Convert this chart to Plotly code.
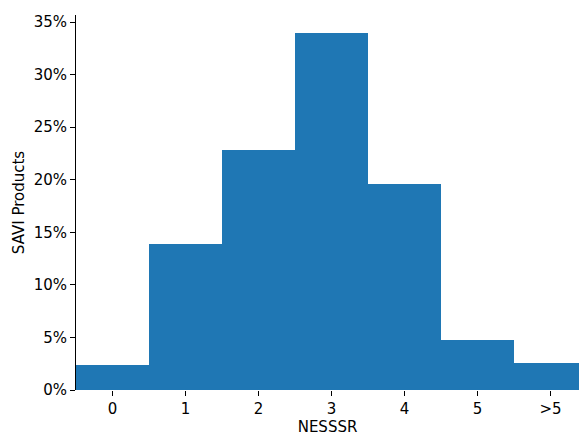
import plotly.graph_objects as go

categories = ["0", "1", "2", "3", "4", "5", ">5"]
shares_pct = [2.38, 13.9, 22.83, 33.95, 19.59, 4.76, 2.57]
y_ticks = [0, 5, 10, 15, 20, 25, 30, 35]
y_tick_labels = [f"{v}%" for v in y_ticks]

fig = go.Figure(
    go.Bar(
        x=list(range(len(categories))),
        y=shares_pct,
        width=1.0,
        marker=dict(color="#1f77b4", line=dict(width=0)),
    )
)

font = dict(family="DejaVu Sans", size=15, color="#000000")

fig.update_layout(
    width=579,
    height=436,
    margin=dict(l=76, r=0, t=15, b=46),
    paper_bgcolor="white",
    plot_bgcolor="white",
    showlegend=False,
    bargap=0,
    font=font,
    xaxis=dict(
        range=[-0.5, 6.39],
        tickmode="array",
        tickvals=list(range(len(categories))),
        ticktext=categories,
        ticks="outside",
        ticklen=5,
        tickwidth=1,
        tickcolor="#000000",
        showline=False,
        showgrid=False,
        zeroline=False,
        title=dict(text="NESSSR", font=font, standoff=4),
    ),
    yaxis=dict(
        range=[0, 35.67],
        tickmode="array",
        tickvals=y_ticks,
        ticktext=y_tick_labels,
        ticks="outside",
        ticklen=5,
        tickwidth=1,
        tickcolor="#000000",
        showline=True,
        linecolor="#000000",
        linewidth=1,
        showgrid=False,
        zeroline=False,
        title=dict(text="SAVI Products", font=font, standoff=5),
    ),
)

fig.write_html(
    "out.html",
    config={"displayModeBar": False},
    post_script="document.body.style.margin='0';document.body.style.overflow='hidden';",
)
